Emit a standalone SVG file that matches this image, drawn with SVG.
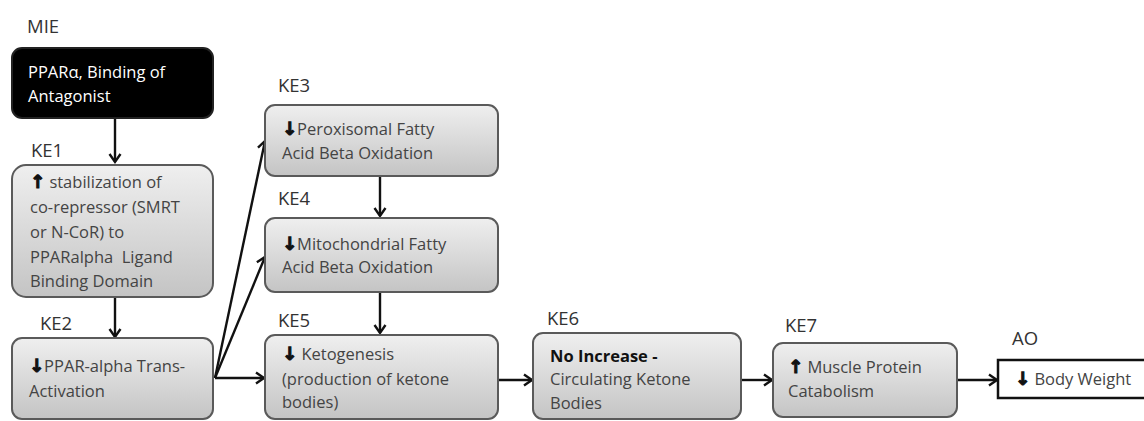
<svg xmlns="http://www.w3.org/2000/svg" width="1144" height="421" viewBox="0 0 1144 421">
<defs>
<linearGradient id="g" x1="0" y1="0" x2="0" y2="1">
<stop offset="0" stop-color="#efefef"/>
<stop offset="1" stop-color="#c4c4c4"/>
</linearGradient>
<marker id="ah" markerWidth="14" markerHeight="14" refX="11" refY="7" orient="auto" markerUnits="userSpaceOnUse">
<path d="M3,1.5 L11,7 L3,12.5" fill="none" stroke="#111" stroke-width="2.4"/>
</marker>
<style>
.box{fill:url(#g);stroke:#5a5a5a;stroke-width:2}
.t{font-family:"Open Sans","Liberation Sans",sans-serif;font-size:16.5px;fill:#444;white-space:pre}
.lbl{font-family:"Open Sans","Liberation Sans",sans-serif;font-size:18.5px;fill:#333}
.ar{font-family:"DejaVu Sans",sans-serif;font-weight:bold;font-size:18px;fill:#111;stroke:#111;stroke-width:1.1}
.c{fill:none;stroke:#111;stroke-width:2.4;marker-end:url(#ah)}
</style>
</defs>
<rect width="1144" height="421" fill="#fff"/>
<g id="connectors">
<path class="c" d="M115,118 V162"/>
<path class="c" d="M115,297 V337"/>
<path class="c" d="M215,378 L265,141"/>
<path class="c" d="M215,378 L265,257"/>
<path class="c" d="M215,378 H264"/>
<path class="c" d="M380,176 V216"/>
<path class="c" d="M380,292 V333"/>
<path class="c" d="M498,380 H532"/>
<path class="c" d="M741,380 H772"/>
<path class="c" d="M957,380 H997"/>
</g>
<g id="MIE">
<text class="lbl" x="27" y="33">MIE</text>
<rect x="12" y="48" width="201" height="70" rx="10" fill="#000" stroke="#222" stroke-width="2"/>
<text class="t" x="28" y="78" style="fill:#fff">PPARα, Binding of</text>
<text class="t" x="28" y="102" style="fill:#fff">Antagonist</text>
</g>
<g id="KE1">
<text class="lbl" x="31" y="157">KE1</text>
<rect class="box" x="12" y="165" width="201" height="132" rx="14"/>
<text class="t" x="30" y="188"><tspan class="ar">↑</tspan> stabilization of</text>
<text class="t" x="30" y="213">co-repressor (SMRT</text>
<text class="t" x="30" y="238">or N-CoR) to</text>
<text class="t" x="30" y="263">PPARalpha  Ligand</text>
<text class="t" x="30" y="287">Binding Domain</text>
</g>
<g id="KE2">
<text class="lbl" x="40" y="330">KE2</text>
<rect class="box" x="12" y="338" width="201" height="81" rx="10"/>
<text class="t" x="29" y="372"><tspan class="ar">↓</tspan>PPAR-alpha Trans-</text>
<text class="t" x="29" y="397">Activation</text>
</g>
<g id="KE3">
<text class="lbl" x="278" y="92">KE3</text>
<rect class="box" x="265" y="105" width="233" height="71" rx="10"/>
<text class="t" x="282" y="135"><tspan class="ar">↓</tspan>Peroxisomal Fatty</text>
<text class="t" x="282" y="159">Acid Beta Oxidation</text>
</g>
<g id="KE4">
<text class="lbl" x="278" y="205">KE4</text>
<rect class="box" x="265" y="218" width="233" height="74" rx="10"/>
<text class="t" x="282" y="250"><tspan class="ar">↓</tspan>Mitochondrial Fatty</text>
<text class="t" x="282" y="273">Acid Beta Oxidation</text>
</g>
<g id="KE5">
<text class="lbl" x="278" y="327">KE5</text>
<rect class="box" x="265" y="335" width="233" height="84" rx="10"/>
<text class="t" x="282" y="360"><tspan class="ar">↓</tspan> Ketogenesis</text>
<text class="t" x="282" y="385">(production of ketone</text>
<text class="t" x="282" y="408">bodies)</text>
</g>
<g id="KE6">
<text class="lbl" x="547" y="325">KE6</text>
<rect class="box" x="533" y="333" width="208" height="86" rx="10"/>
<text class="t" x="550" y="362" font-weight="bold" style="fill:#111">No Increase -</text>
<text class="t" x="550" y="385">Circulating Ketone</text>
<text class="t" x="550" y="409">Bodies</text>
</g>
<g id="KE7">
<text class="lbl" x="785" y="332">KE7</text>
<rect class="box" x="773" y="343" width="184" height="74" rx="10"/>
<text class="t" x="788" y="373"><tspan class="ar">↑</tspan> Muscle Protein</text>
<text class="t" x="788" y="397">Catabolism</text>
</g>
<g id="AO">
<text class="lbl" x="1012" y="345">AO</text>
<rect x="998" y="360" width="150" height="38" fill="#fff" stroke="#111" stroke-width="2.5"/>
<text class="t" x="1015" y="385"><tspan class="ar">↓</tspan> Body Weight</text>
</g>
</svg>
